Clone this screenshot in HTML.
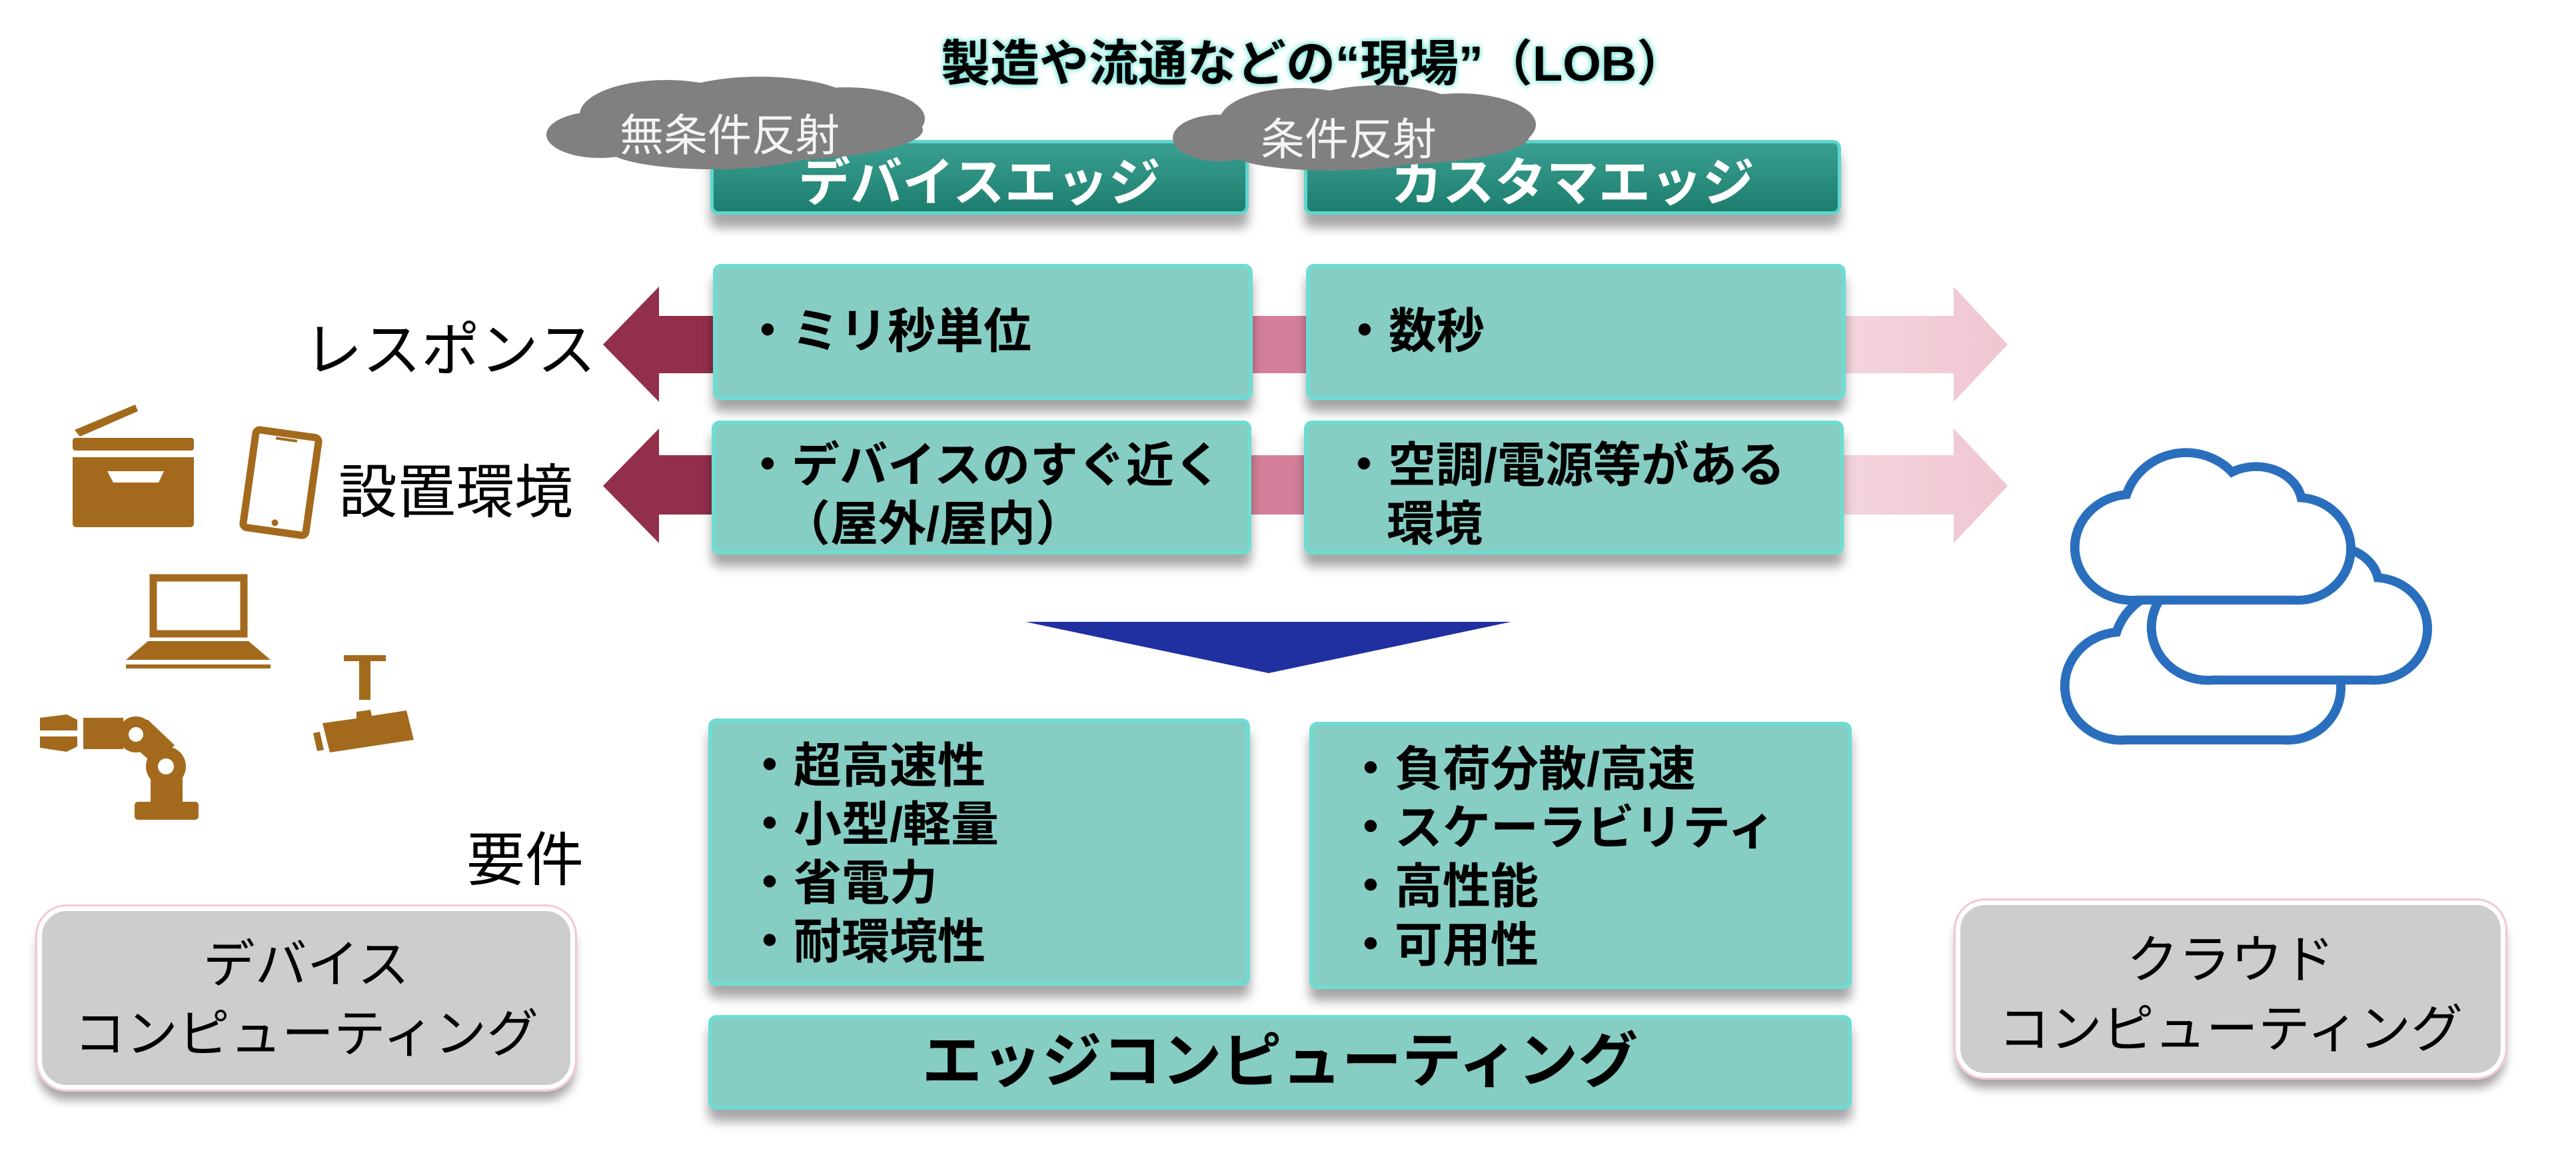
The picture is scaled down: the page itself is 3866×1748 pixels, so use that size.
<!DOCTYPE html>
<html><head><meta charset="utf-8"><style>
*{margin:0;padding:0;box-sizing:border-box}
body{width:3866px;height:1748px;background:#fff;position:relative;overflow:hidden;font-family:"Liberation Sans","Noto Sans CJK JP",sans-serif}
.a{position:absolute}
.box{position:absolute;background:#86cdc4;border:6px solid #6fdcd2;border-radius:12px;box-shadow:0 18px 16px rgba(0,0,0,0.35);font-weight:bold;font-size:72px;color:#000;line-height:88px}
.hdr{position:absolute;background:linear-gradient(#3a9f91,#1d7e6e);border:5px solid #5fd6cc;border-radius:12px;box-shadow:0 20px 16px rgba(0,0,0,0.35);color:#fff;font-weight:bold;font-size:78px;text-align:center;line-height:118px}
.gray{position:absolute;background:#cdcdcd;border:7px solid #fff;outline:3px solid #f2c8d4;border-radius:44px;box-shadow:0 16px 14px rgba(0,0,0,0.35);font-size:78px;text-align:center;line-height:104px;color:#000}
.lbl{position:absolute;font-size:88px;color:#000;white-space:nowrap}
.b{position:absolute;white-space:nowrap}
</style></head><body>
<svg class="a" style="left:0;top:0" width="3866" height="1748">
<defs>
<linearGradient id="pk" x1="0" x2="1"><stop offset="0" stop-color="#f4d5dd"/><stop offset="1" stop-color="#efc6d1"/></linearGradient>
<path id="cl" d="M80,240 L320,240 A80,80 0 0 0 330,80 A70,60 0 0 0 225,40 A95,95 0 0 0 65,75 A85,82 0 0 0 80,240 Z"/>
</defs>
<polygon points="905,517 989,430 989,474 1080,474 1080,560 989,560 989,603" fill="#922f4a"/>
<rect x="1870" y="474" width="95" height="86" fill="#d5809a"/>
<polygon points="2760,474 2932,474 2932,430 3013,517 2932,603 2932,560 2760,560" fill="url(#pk)"/>
<polygon points="905,729 989,643 989,683 1080,683 1080,772 989,772 989,815" fill="#922f4a"/>
<rect x="1870" y="683" width="95" height="89" fill="#d5809a"/>
<polygon points="2760,683 2932,683 2932,643 3013,729 2932,815 2932,772 2760,772" fill="url(#pk)"/>
<polygon points="1539,933 2268,933 1904,1010" fill="#2030a0"/>
<g fill="#fff" stroke="#2a6fbd" stroke-width="14">
<use href="#cl" transform="translate(3112,875) scale(0.99,0.98)"/>
<use href="#cl" transform="translate(3242,790) scale(0.99,0.96)"/>
<use href="#cl" transform="translate(3127,670) scale(0.99,0.96)"/>
</g>
<g fill="#a36a1d">
<polygon points="112,645 203,607 207,617 120,655"/>
<rect x="109" y="657" width="182" height="19" rx="4"/>
<path d="M109,686 H291 V785 Q291,791 285,791 H115 Q109,791 109,785 Z M161,707 L170,724 H238 L246,707 Z" fill-rule="evenodd"/>
<g transform="rotate(8 421 724)"><rect x="374" y="650" width="95" height="148" rx="6" fill="none" stroke="#a36a1d" stroke-width="11"/><circle cx="421" cy="785" r="5"/><rect x="405" y="657" width="32" height="4"/></g>
<rect x="230" y="867" width="136" height="84" fill="none" stroke="#a36a1d" stroke-width="11"/>
<polygon points="222,962 373,962 406,990 189,990" />
<rect x="189" y="997" width="217" height="6"/>
<rect x="516" y="983" width="63" height="9"/><rect x="539" y="992" width="17" height="58"/>
<polygon points="484,1085 535,1078 535,1068 556,1065 558,1074 610,1066 621,1110 495,1129"/>
<polygon points="470,1100 480,1098 486,1125 476,1127"/>
<polygon points="60,1077 100,1072 116,1080 116,1096 60,1096"/><polygon points="60,1105 116,1105 116,1120 100,1128 60,1122"/>
<rect x="125" y="1077" width="60" height="47"/>
<polygon points="190,1080 222,1080 262,1118 232,1148 190,1110"/>
<circle cx="204" cy="1102" r="27"/><circle cx="249" cy="1150" r="30"/>
<rect x="226" y="1150" width="48" height="58"/><rect x="202" y="1203" width="96" height="27" rx="5"/>
</g>
<g fill="#fff"><circle cx="204" cy="1102" r="11"/><circle cx="249" cy="1150" r="12"/></g>
</svg>

<div class="b" style="left:1412px;top:36px;font-size:74px;font-weight:bold;color:#000;text-shadow:0 0 10px #6fe0d4,0 0 6px #6fe0d4">製造や流通などの“現場”（LOB）</div>

<div class="hdr" style="left:1066px;top:210px;width:808px;height:112px">デバイスエッジ</div>
<div class="hdr" style="left:1957px;top:210px;width:806px;height:112px">カスタマエッジ</div>

<svg class="a" style="left:0;top:0" width="3866" height="400">
<g fill="#808080">
<ellipse cx="1115" cy="195" rx="270" ry="48"/><ellipse cx="1000" cy="172" rx="130" ry="52"/><ellipse cx="1140" cy="162" rx="150" ry="47"/><ellipse cx="1270" cy="178" rx="118" ry="47"/><ellipse cx="1070" cy="222" rx="160" ry="32"/><ellipse cx="900" cy="202" rx="80" ry="35"/>
<ellipse cx="2040" cy="205" rx="255" ry="44"/><ellipse cx="1950" cy="182" rx="120" ry="50"/><ellipse cx="2070" cy="172" rx="130" ry="44"/><ellipse cx="2190" cy="187" rx="115" ry="47"/><ellipse cx="2000" cy="230" rx="150" ry="26"/><ellipse cx="1830" cy="207" rx="70" ry="35"/>
</g>
</svg>
<div class="b" style="left:930px;top:150px;font-size:66px;color:#f4f4f4">無条件反射</div>
<div class="b" style="left:1892px;top:156px;font-size:66px;color:#f4f4f4">条件反射</div>

<div class="box" style="left:1070px;top:396px;width:810px;height:204px"><div class="b" style="left:40px;top:52px">・ミリ秒単位</div></div>
<div class="box" style="left:1960px;top:396px;width:810px;height:204px"><div class="b" style="left:46px;top:52px">・数秒</div></div>
<div class="box" style="left:1068px;top:631px;width:810px;height:201px"><div class="b" style="left:42px;top:18px">・デバイスのすぐ近く</div><div class="b" style="left:100px;top:106px">（屋外/屋内）</div></div>
<div class="box" style="left:1957px;top:631px;width:810px;height:201px"><div class="b" style="left:48px;top:18px">・空調/電源等がある</div><div class="b" style="left:118px;top:106px">環境</div></div>

<div class="box" style="left:1063px;top:1078px;width:813px;height:401px"><div class="b" style="left:50px;top:22px">・超高速性<br>・小型/軽量<br>・省電力<br>・耐環境性</div></div>
<div class="box" style="left:1965px;top:1083px;width:814px;height:401px"><div class="b" style="left:50px;top:22px">・負荷分散/高速<br>・スケーラビリティ<br>・高性能<br>・可用性</div></div>
<div class="box" style="left:1063px;top:1523px;width:1716px;height:142px;text-align:center;font-size:90px;line-height:128px">エッジコンピューティング</div>

<div class="lbl" style="left:456px;top:455px">レスポンス</div>
<div class="lbl" style="left:508px;top:668px">設置環境</div>
<div class="lbl" style="left:700px;top:1220px">要件</div>

<div class="gray" style="left:56px;top:1360px;width:807px;height:275px;padding-top:28px">デバイス<br>コンピューティング</div>
<div class="gray" style="left:2935px;top:1351px;width:825px;height:266px;padding-top:30px">クラウド<br>コンピューティング</div>
</body></html>
